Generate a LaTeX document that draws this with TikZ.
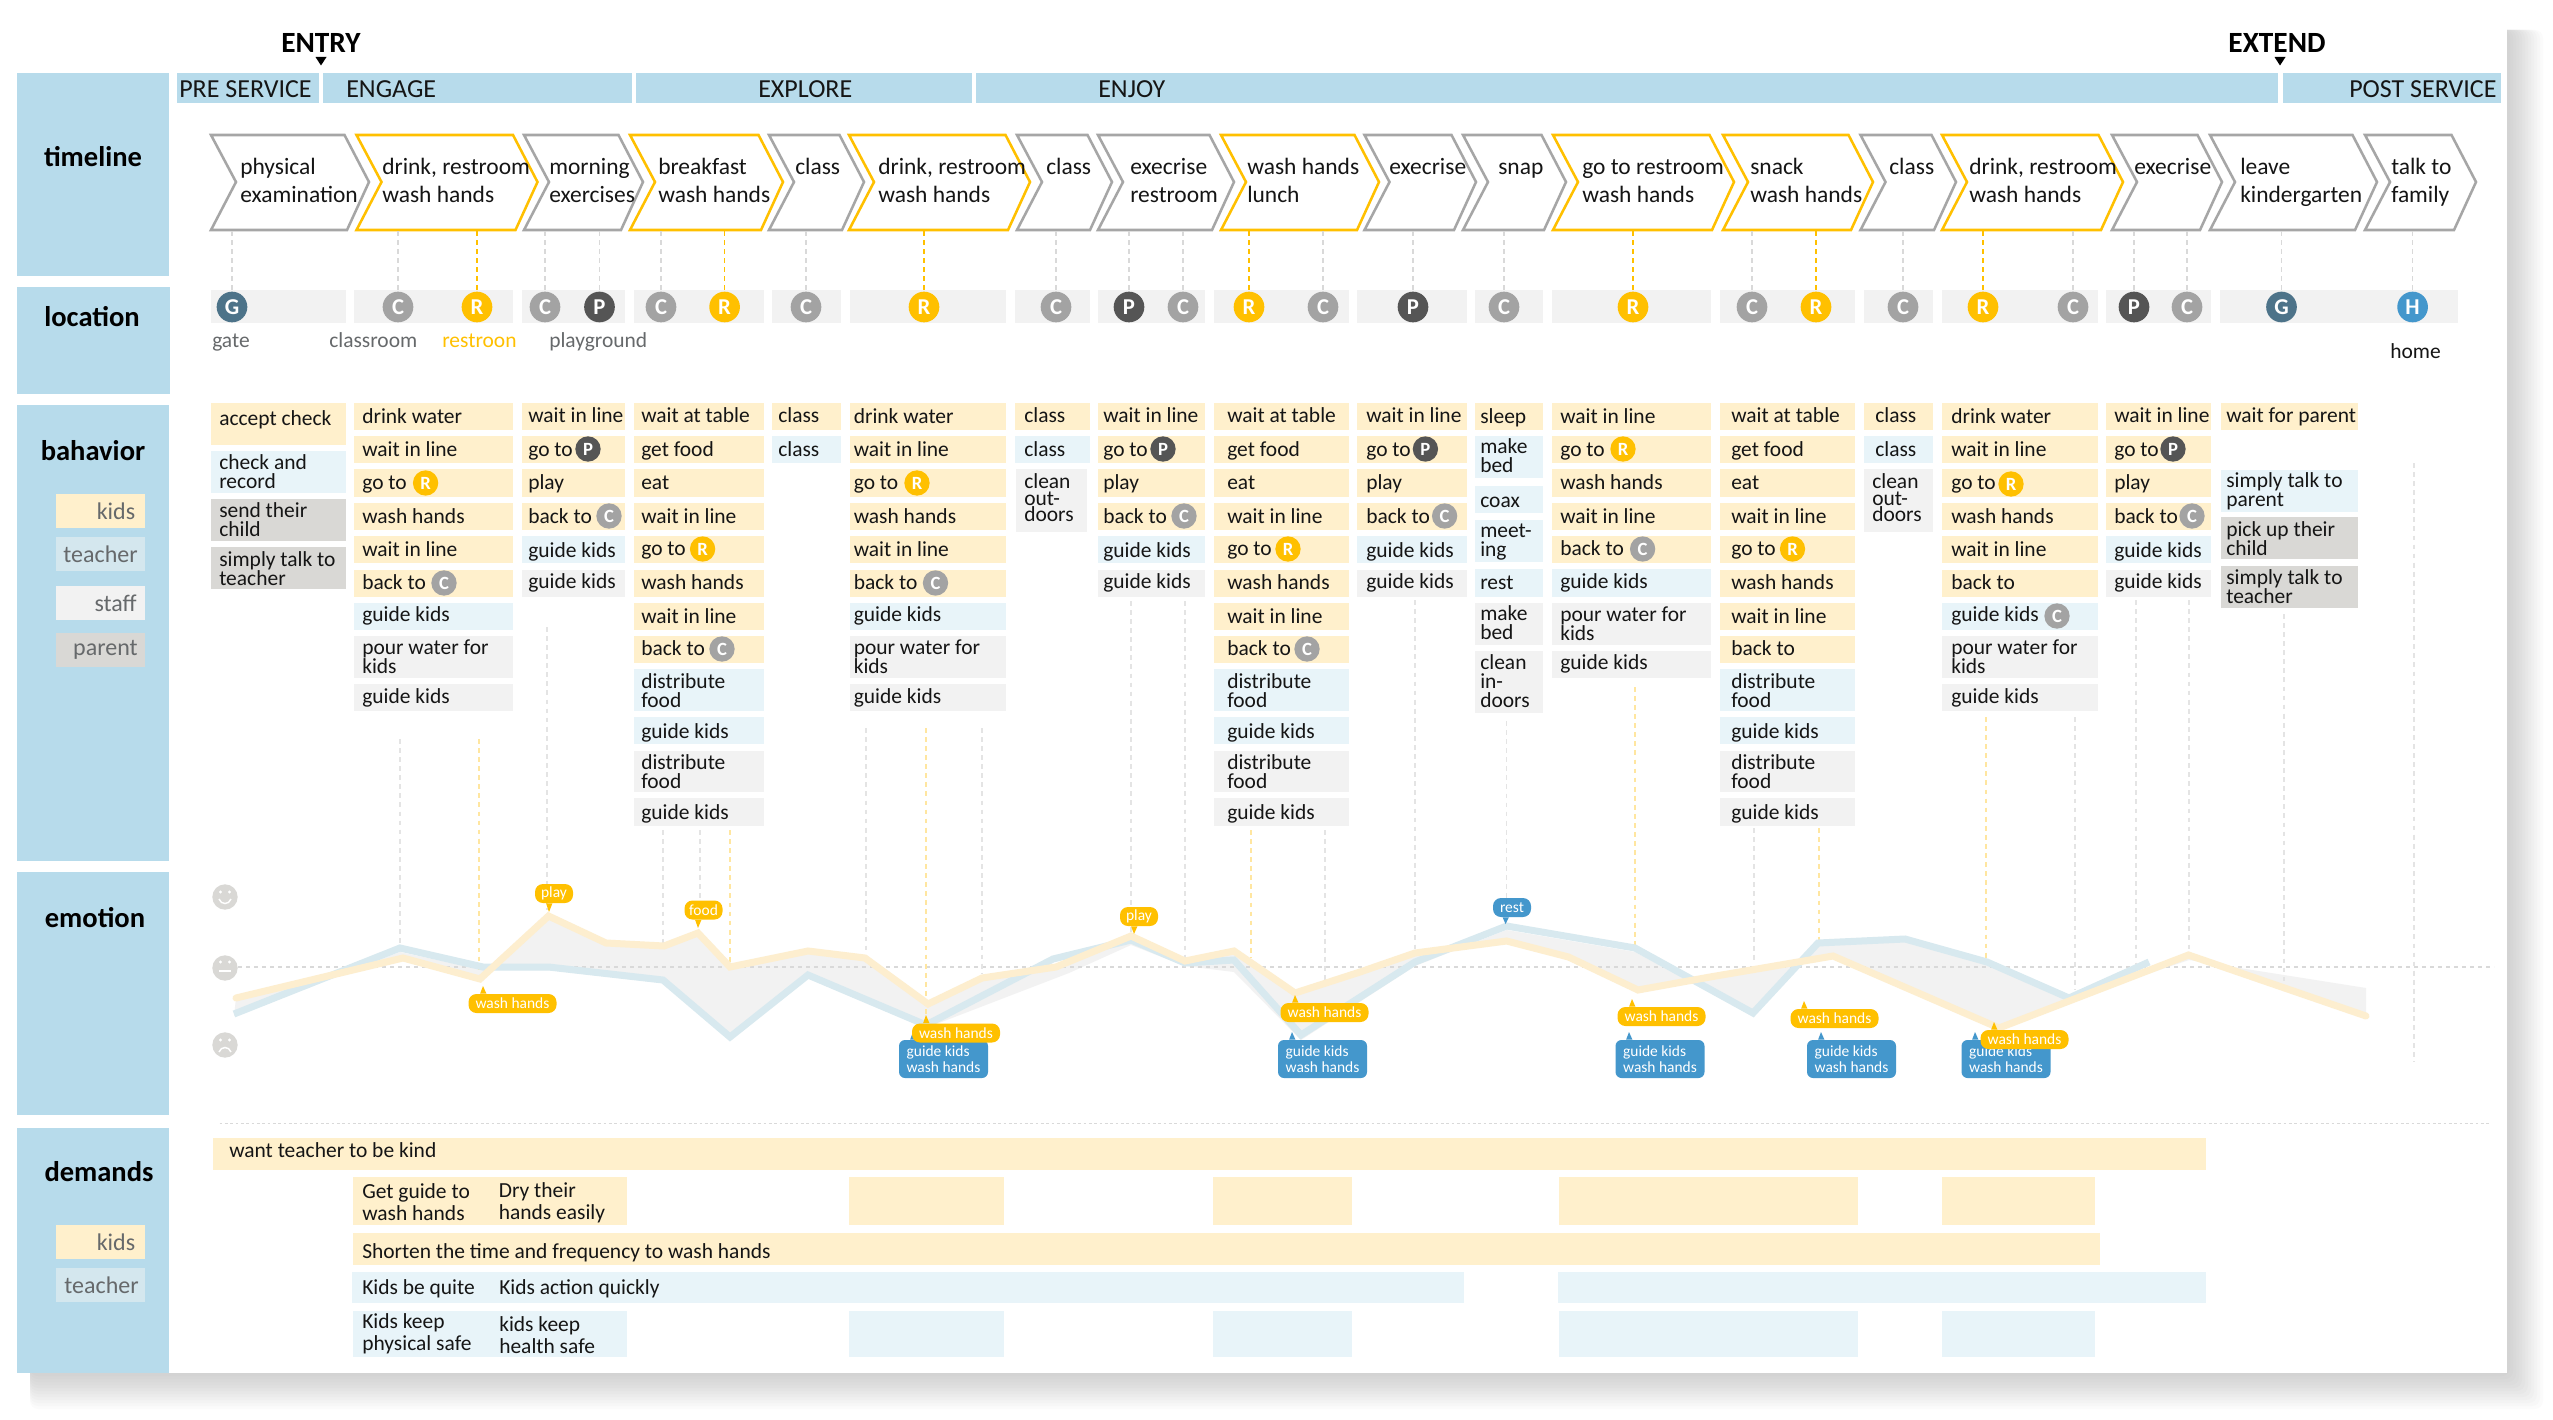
\documentclass[tikz,border=0pt]{standalone}
\usepackage{tikz}
\usepackage{fontspec}
\setmainfont{Carlito}
\usepackage{xcolor}

\definecolor{bandcol}{HTML}{B7DBEB}
\definecolor{kidcol}{HTML}{FFF0CC}
\definecolor{teachcol}{HTML}{E8F4F9}
\definecolor{staffcol}{HTML}{F2F2F2}
\definecolor{parentcol}{HTML}{D9D8D5}
\definecolor{legteach}{HTML}{D4E7EE}
\definecolor{goldcol}{HTML}{FFC000}
\definecolor{pinblue}{HTML}{4497CC}
\definecolor{chevgray}{HTML}{A6A6A6}
\definecolor{linkgray}{HTML}{D9D9D9}
\definecolor{lowgray}{HTML}{E4E4E4}
\definecolor{linkgold}{HTML}{FFE6A0}
\definecolor{teachline}{HTML}{D8E9EF}
\definecolor{kidline}{HTML}{FDEECF}
\definecolor{ink}{HTML}{151515}
\definecolor{soft}{HTML}{66696B}
\definecolor{gatecol}{HTML}{4D7389}
\definecolor{classcol}{HTML}{A3A3A3}
\definecolor{playcol}{HTML}{555555}

\newcommand{\bhvf}{\fontsize{16.1pt}{14.25pt}\selectfont\lineskiplimit=-20pt\relax}
\newcommand{\tightf}{\fontsize{16.1pt}{12.5pt}\selectfont\lineskiplimit=-20pt\relax}
\newcommand{\chevf}{\fontsize{17.6pt}{21pt}\selectfont\lineskiplimit=-20pt\relax}
\newcommand{\demf}{\fontsize{16.1pt}{16.5pt}\selectfont\lineskiplimit=-20pt\relax}

\tikzset{
	kidbox/.style={fill=kidcol},
	teachbox/.style={fill=teachcol},
	staffbox/.style={fill=staffcol},
	parentbox/.style={fill=parentcol},
	lbl/.style={inner sep=0pt,anchor=west,align=left,text=ink,font=\bhvf,
		execute at begin node=\rule{0pt}{12.4pt},execute at end node=\rule[-2pt]{0pt}{2pt}},
	chevlbl/.style={lbl,font=\chevf},
	demlbl/.style={lbl,font=\demf},
	softlbl/.style={lbl,text=soft},
	stagelbl/.style={lbl,font=\fontsize{19.5pt}{21pt}\selectfont},
	bandtitle/.style={inner sep=0pt,text=black,font=\fontsize{21.4pt}{24pt}\selectfont\bfseries},
	marktitle/.style={bandtitle,font=\fontsize{22pt}{24pt}\selectfont\bfseries},
	legendlbl/.style={inner sep=0pt,anchor=east,text=soft,font=\fontsize{18pt}{21pt}\selectfont},
	graychev/.style={draw=chevgray,fill=white,line width=1.9pt,miter limit=10},
	goldchev/.style={draw=goldcol,fill=white,line width=1.9pt,miter limit=10},
	graylink/.style={draw=linkgray,line width=1.1pt,dash pattern=on 3.6pt off 3.2pt},
	lowlink/.style={draw=lowgray,line width=1.1pt,dash pattern=on 3.6pt off 3.2pt},
	goldlink/.style={draw=goldcol,line width=1.1pt,dash pattern=on 3.6pt off 3.2pt},
	fadelink/.style={draw=linkgold,line width=1.1pt,dash pattern=on 3.6pt off 3.2pt},
	bigicon/.style={circle,inner sep=0pt,minimum size=23pt,text=white,font=\fontsize{17pt}{17pt}\selectfont\bfseries},
	smicon/.style={circle,inner sep=0pt,minimum size=19pt,text=white,font=\fontsize{14pt}{14pt}\selectfont\bfseries},
	iconG/.style={fill=gatecol},
	iconC/.style={fill=classcol},
	iconR/.style={fill=goldcol},
	iconP/.style={fill=playcol},
	iconH/.style={fill=pinblue},
	face/.style={circle,fill=parentcol,inner sep=0pt,minimum size=19pt},
	facemark/.style={draw=white,line width=1.1pt},
	pill/.style={inner sep=0pt,text=white,align=left,rounded corners=6pt,minimum height=14.25pt,
		font=\fontsize{11.6pt}{12pt}\selectfont},
	pillgold/.style={pill,fill=goldcol,minimum width=#1},
	pillblue/.style={pill,fill=pinblue,rounded corners=4.5pt,minimum width=66.75pt,minimum height=28.5pt},
}

\def\rowsdrink{kidbox/403/430/417/drink water,kidbox/436/463/450/wait in line,kidbox/469/497/483/go to,kidbox/503/530/517/wash hands,kidbox/536/563/550/wait in line,kidbox/570/597/583/back to,teachbox/603/630/615/guide kids,staffbox/636/678/657.5/pour water for\\kids,staffbox/684/711/697/guide kids}
\def\rowsplay{kidbox/403/430/416/wait in line,kidbox/436/463/450/go to,kidbox/469/497/483/play,kidbox/503/530/517/back to,teachbox/536/563/551/guide kids,staffbox/570/597/582/guide kids}
\def\rowsmeal{kidbox/403/430/416/wait at table,kidbox/436/463/450/get food,kidbox/469/497/483/eat,kidbox/503/530/517/wait in line,kidbox/536/563/549/go to,kidbox/570/597/583/wash hands,kidbox/603/630/617/wait in line,kidbox/636/663/649/back to,teachbox/669/711/691.5/distribute\\food,teachbox/717/744/732/guide kids,staffbox/751/792/772.5/distribute\\food,staffbox/798/826/813/guide kids}
\def\rowsclass{kidbox/403/430/416/class,teachbox/436/463/450/class}
\def\rowsgate{kidbox/403/445/419/accept check,teachbox/451/493/472.5/check and\\record,parentbox/499/541/520.5/send their\\child,parentbox/547/589/569.5/simply talk to\\teacher}
\def\rowsnap{kidbox/403/430/417/sleep,teachbox/436/478/456.5/{\tightf make\\bed},teachbox/486/513/501/coax,teachbox/520/562/542.5/meet-\\ing,teachbox/569/597/583/rest,staffbox/603/645/623.5/{\tightf make\\bed},staffbox/651/713/682.5/{\tightf clean\\in-\\doors}}
\def\rowswash{kidbox/403/430/417/wait in line,kidbox/436/463/450/go to,kidbox/469/497/483/wash hands,kidbox/503/530/517/wait in line,kidbox/536/563/549/back to,teachbox/569/597/582/guide kids,staffbox/603/645/625/pour water for\\kids,staffbox/651/678/663/guide kids}
\def\rowsleave{kidbox/403/430/416/wait for parent,teachbox/470/512/491.5/simply talk to\\parent,parentbox/517/559/540/pick up their\\child,parentbox/566/608/588/simply talk to\\teacher}

\newcommand{\bhvcol}[5]{
	\foreach \st/\ya/\yb/\yt/\txt [count=\n] in #5 {
		\fill[\st] (#2,\ya) rectangle (#3,\yb);
		\node[lbl] (#1r\n) at (#4,\yt) {\txt};
	}
}
\newcommand{\pin}[8]{
	\node[#2] (#1) at (#3,#4) {#8};
	\coordinate (#1tip) at (#5,#6);
	\fill[#7] ([xshift=-2.2pt]#1.north -| #1tip) -- (#1tip) -- ([xshift=2.6pt]#1.north -| #1tip) -- cycle;
}
\newcommand{\pinup}[8]{
	\node[#2] (#1) at (#3,#4) {#8};
	\coordinate (#1tip) at (#5,#6);
	\fill[#7] ([xshift=-2.2pt]#1.south -| #1tip) -- (#1tip) -- ([xshift=2.6pt]#1.south -| #1tip) -- cycle;
}

\begin{document}
\begin{tikzpicture}[x=0.75pt,y=-0.75pt]
	\useasboundingbox (0,0) rectangle (2553,1420);
	% sheet and its shadow
	\foreach \i in {12,11,...,1} {
		\fill[black,opacity=.015,rounded corners=6pt] (30,30) rectangle ({2507+3*\i},{1373+3*\i});
	}
	\fill[white] (17,18) rectangle (2507,1373);

	% left bands
	\fill[bandcol] (17,73) rectangle (169,276);
	\fill[bandcol] (17,287) rectangle (170,394);
	\fill[bandcol] (17,405) rectangle (169,861);
	\fill[bandcol] (17,872) rectangle (169,1115);
	\fill[bandcol] (17,1128) rectangle (169,1373);
	\node[bandtitle] (tTimeline) at (93,157) {timeline};
	\node[bandtitle] (tLocation) at (92,317) {location};
	\node[bandtitle] (tBehavior) at (93,451) {bahavior};
	\node[bandtitle] (tEmotion) at (95,918) {emotion};
	\node[bandtitle] (tDemands) at (99,1172) {demands};

	% legends
	\foreach \nm/\st/\ya/\yb/\xt in {kids/kidcol/494/528/135.5,teacher/legteach/537/571/138,staff/staffcol/586/620/137,parent/parentcol/633/667/138} {
		\fill[\st] (56,\ya) rectangle (145,\yb);
		\node[legendlbl] (leg\nm) at (\xt,{(\ya+\yb)/2}) {\nm};
	}
	\foreach \nm/\st/\ya/\yb/\xt in {kids/kidcol/1225/1259/135.5,teacher/legteach/1268/1302/139} {
		\fill[\st] (56,\ya) rectangle (145,\yb);
		\node[legendlbl] (dem\nm) at (\xt,{(\ya+\yb)/2}) {\nm};
	}

	% stages
	\foreach \xa/\xb in {177/319,323/632,636/972,976/2278,2283/2501} {
		\fill[bandcol] (\xa,73) rectangle (\xb,103.5);
	}
	\node[stagelbl] (sPre) at (179,90) {PRE SERVICE};
	\node[stagelbl] (sEngage) at (346,90) {ENGAGE};
	\node[stagelbl] (sExplore) at (758,90) {EXPLORE};
	\node[stagelbl] (sEnjoy) at (1098,90) {ENJOY};
	\node[stagelbl] (sPost) at (2349,90) {POST SERVICE};
	\node[marktitle] (entry) at (321,43) {ENTRY};
	\node[marktitle] (extend) at (2277,43) {EXTEND};
	\fill[black] (315.5,57) -- (326.5,57) -- (321,65.5) -- cycle;
	\fill[black] (2274.5,57) -- (2285.5,57) -- (2280,65.5) -- cycle;

	% timeline
	\foreach \st/\xl/\xt/\tx/\yt/\txt [count=\n] in {
		graychev/211/369/240/182/{physical\\examination},
		goldchev/356.5/537.5/382/182/{drink, restroom\\wash hands},
		graychev/524/643/549/182/{morning\\exercises},
		goldchev/630/783/658/182/{breakfast\\wash hands},
		graychev/769/864/795/168/{class},
		goldchev/849/1030/878/182/{drink, restroom\\wash hands},
		graychev/1017/1112/1046/168/{class},
		graychev/1098/1234/1130/182/{execrise\\restroom},
		goldchev/1221/1379/1247/182/{wash hands\\lunch},
		graychev/1364.5/1476/1389/168/{execrise},
		graychev/1463/1566/1498/168/{snap},
		goldchev/1553/1734/1582/182/{go to restroom\\wash hands},
		goldchev/1723/1873/1750/182/{snack\\wash hands},
		graychev/1860.5/1956/1889/168/{class},
		goldchev/1942/2123/1969/182/{drink, restroom\\wash hands},
		graychev/2112/2222/2134/168/{execrise},
		graychev/2210/2377/2240/182/{leave\\kindergarten},
		graychev/2365/2476/2391/182/{talk to\\family}} {
		\filldraw[\st] (\xl,135) -- ({\xt-24.5},135) -- (\xt,182) -- ({\xt-22},230) -- (\xl,230) -- ({\xl+25},182) -- cycle;
		\node[chevlbl] (tl\n) at (\tx,\yt) {\txt};
	}

	% location
	\foreach \xa/\xb in {211/346,354/513,522/625,633.5/763.5,772/841,850/1006,1014.5/1090,1098/1205,1214/1349,1357/1466.5,1475/1543,1552/1711,1720/1855,1864/1933,1942/2098,2106/2211,2220/2458} {
		\fill[staffbox] (\xa,290) rectangle (\xb,323);
	}
	\foreach \n/\x/\kn/\lk in {1/232/G/graylink,2/398/C/graylink,3/477/R/goldlink,4/545/C/graylink,5/599.5/P/graylink,6/661/C/graylink,7/724.6/R/goldlink,8/806/C/graylink,9/924/R/goldlink,10/1056/C/graylink,11/1129/P/graylink,12/1183/C/graylink,13/1249/R/goldlink,14/1323/C/graylink,15/1413/P/graylink,16/1504/C/graylink,17/1633/R/goldlink,18/1752/C/graylink,19/1816/R/goldlink,20/1903/C/graylink,21/1983/R/goldlink,22/2073/C/graylink,23/2134/P/graylink,24/2187/C/graylink,25/2281.5/G/graylink,26/2412.6/H/graylink} {
		\coordinate (t\n) at (\x,231);
		\node[bigicon,icon\kn] (loc\n) at (\x,307) {\kn};
		\draw[\lk] (t\n) -- (loc\n);
	}
	\node[softlbl] (pGate) at (212,341) {gate};
	\node[softlbl] (pClass) at (329,341) {classroom};
	\node[softlbl,text=goldcol] (pRest) at (442,341) {restroon};
	\node[softlbl] (pPlay) at (549,341) {playground};
	\node[lbl] (pHome) at (2390,351.5) {home};

	% behavior
	\bhvcol{c1}{211}{346}{219}{\rowsgate}
	\bhvcol{c2}{354}{513}{362}{\rowsdrink}
	\bhvcol{c3}{522}{625}{528}{\rowsplay}
	\bhvcol{c4}{633.5}{763.5}{641}{\rowsmeal}
	\bhvcol{c5}{772}{841}{778}{\rowsclass}
	\bhvcol{c6}{850}{1006}{853.5}{\rowsdrink}
	\bhvcol{c7}{1014.5}{1090}{1024}{\rowsclass}
	\fill[staffbox] (1016,469) rectangle (1087,532);
	\node[lbl,font=\tightf] (c7out) at (1024,499) {clean\\out-\\doors};
	\bhvcol{c8}{1098}{1205}{1103}{\rowsplay}
	\bhvcol{c9}{1214}{1349}{1227}{\rowsmeal}
	\bhvcol{c10}{1357}{1466.5}{1366}{\rowsplay}
	\bhvcol{c11}{1475}{1543}{1480}{\rowsnap}
	\bhvcol{c12}{1552}{1711}{1560}{\rowswash}
	\bhvcol{c13}{1720}{1855}{1731}{\rowsmeal}
	\bhvcol{c14}{1864}{1933}{1875}{\rowsclass}
	\fill[staffbox] (1864,469) rectangle (1933,532);
	\node[lbl,font=\tightf] (c14out) at (1872,499) {clean\\out-\\doors};
	\bhvcol{c15}{1942}{2098}{1951}{\rowsdrink}
	\bhvcol{c16}{2106}{2211}{2114}{\rowsplay}
	\bhvcol{c17}{2221}{2358}{2226}{\rowsleave}

	% small icons in the behavior boxes
	\foreach \n/\x/\y/\kn in {1/425.6/483/R,2/444/583/C,3/588/449/P,4/609/516/C,5/702.6/549/R,6/722/649/C,7/917/483/R,8/935.5/583/C,9/1163/449/P,10/1184/516/C,11/1288/549/R,12/1307/649/C,13/1425.4/449/P,14/1444.6/516/C,15/1623/449/R,16/1642.6/549/C,17/1792.5/549/R,18/2011/484/R,19/2057/616/C,20/2173/449/P,21/2192/516/C} {
		\node[smicon,icon\kn] (bi\n) at (\x,\y) {\kn};
	}

	% emotion
	\fill[staffbox] plot coordinates {(234,1016) (400,952) (483,970) (548.5,970) (663,983) (730,1040) (808,978) (926,1028) (1069,973) (1131,945) (1185,966) (1234,972) (1301,1040) (1415,966) (1506.6,930) (1635,952) (1753,1016) (1818,946) (1905,942) (1987,965) (2069,1000) (2189,960) (2366,988) (2366,1016) (2188.5,955) (1999,1028) (1833,956) (1710,977) (1638,990) (1568.5,957) (1506.6,941) (1415,953) (1360,972) (1295,993) (1234,951) (1185,961) (1131,936) (1056,967) (982,978) (928,1004) (865,958) (808,951) (730,967) (698,933) (664,946) (606,943) (548.5,916) (480,979) (403,958) (236,998)};
	\coordinate (zeroA) at (238,967);
	\coordinate (zeroB) at (2494,967);
	\draw[draw=linkgray,line width=1.3pt,dash pattern=on 3pt off 3pt] (zeroA) -- (zeroB);
	\foreach \n/\x/\ya/\yb/\lk in {1/400/739/945/lowlink,2/479/739/983/fadelink,3/547/627/910/lowlink,4/663/830/943/lowlink,5/700/830/900/lowlink,6/730/830/970/fadelink,7/866/728/953/lowlink,8/926/728/1017/fadelink,9/982/728/973/lowlink,10/1131/601/940/lowlink,11/1185/601/960/lowlink,12/1251/830/957/fadelink,13/1325/830/983/lowlink,14/1415/600/950/lowlink,15/1506.6/721/927/lowlink,16/1635/687/947/fadelink,17/1754/828/963/lowlink,18/1819/828/940/fadelink,19/1986/717/958/fadelink,20/2075/717/990/lowlink,21/2136/600/967/lowlink,22/2189/600/953/lowlink,23/2284/614/992/lowlink,24/2414/463/1062/lowlink} {
		\coordinate (u\n) at (\x,\ya);
		\coordinate (v\n) at (\x,\yb);
		\draw[\lk] (u\n) -- (v\n);
	}
	\draw[draw=teachline,line width=5.25pt,miter limit=10] plot coordinates {(234,1014) (400,948) (483,967) (548.5,967) (663,980) (730,1037) (808,975) (926,1025) (1053,959) (1131,940) (1185,963) (1234,960) (1301,1035) (1415,962) (1506.6,926) (1635,948) (1753,1013) (1818,943) (1905,939) (1987,962) (2069,998) (2149,962)};
	\draw[draw=kidline,line width=5.25pt,line cap=round,miter limit=10] plot coordinates {(236,998) (403,958) (480,979) (548.5,916) (606,943) (664,946) (698,933) (730,967) (808,951) (865,958) (928,1004) (982,978) (1056,967) (1131,936) (1185,961) (1234,951) (1295,993) (1360,972) (1415,953) (1506.6,941) (1568.5,957) (1638,990) (1710,977) (1833,956) (1999,1028) (2188.5,955) (2366,1016)};

	% faces
	\node[face] (faceUp) at (225,897) {};
	\node[face] (faceMid) at (225,968) {};
	\node[face] (faceDown) at (225,1045) {};
	\foreach \y in {892,962,1040} {
		\fill[white] (220.5,\y) circle (1.3pt);
		\fill[white] (229.5,\y) circle (1.3pt);
	}
	\draw[facemark] (219,899) .. controls (221,905) and (229,905) .. (231,899);
	\draw[facemark,line width=1.4pt] (219,971) -- (231,971);
	\draw[facemark] (219,1052) .. controls (221,1046) and (229,1046) .. (231,1052);

	% pins
	\pin{pBlueA}{pillblue}{943.5}{1059}{913}{1032}{pinblue}{guide kids\\wash hands}
	\pin{pBlueB}{pillblue}{1322.5}{1059}{1292}{1032}{pinblue}{guide kids\\wash hands}
	\pin{pBlueC}{pillblue}{1660}{1059}{1629}{1032}{pinblue}{guide kids\\wash hands}
	\pin{pBlueD}{pillblue}{1851.5}{1059}{1821}{1032}{pinblue}{guide kids\\wash hands}
	\pin{pBlueE}{pillblue}{2006}{1059}{1975}{1032}{pinblue}{guide kids\\wash hands}
	\pinup{pPlayA}{pillgold=28.5pt}{554}{893.5}{549}{912}{goldcol}{play}
	\pinup{pFood}{pillgold=28.5pt}{703.5}{910}{698}{928}{goldcol}{food}
	\pinup{pPlayB}{pillgold=28.5pt}{1139}{916.5}{1134}{934}{goldcol}{play}
	\pinup{pRest}{pill,fill=pinblue,minimum width=28.5pt}{1512}{907.5}{1505.5}{924}{pinblue}{rest}
	\pin{pWashA}{pillgold=66pt}{512.5}{1003.5}{483}{986}{goldcol}{wash hands}
	\pin{pWashB}{pillgold=66pt}{956}{1033}{926}{1015}{goldcol}{wash hands}
	\pin{pWashC}{pillgold=66pt}{1324.5}{1012.5}{1295}{995}{goldcol}{wash hands}
	\pin{pWashD}{pillgold=66pt}{1661.5}{1016.5}{1632}{999}{goldcol}{wash hands}
	\pin{pWashE}{pillgold=66pt}{1834.5}{1018.5}{1804}{1001}{goldcol}{wash hands}
	\pin{pWashF}{pillgold=66pt}{2024.5}{1039.5}{1994}{1022}{goldcol}{wash hands}

	% demands
	\coordinate (rowA) at (219.5,1123.5);
	\coordinate (rowB) at (2490,1123.5);
	\draw[draw=linkgray,line width=.9pt,dash pattern=on 2pt off 2pt] (rowA) -- (rowB);
	\fill[kidbox] (213,1138) rectangle (2206,1169.5);
	\fill[kidbox] (352.5,1233) rectangle (2099.5,1265);
	\fill[teachbox] (352,1272) rectangle (1464,1303);
	\fill[teachbox] (1558,1272) rectangle (2206,1303);
	\foreach \xa/\xb in {352.5/627,849/1004,1212.6/1352,1559/1858,1941.6/2095} {
		\fill[kidbox] (\xa,1177) rectangle (\xb,1225);
		\fill[teachbox] (\xa,1311) rectangle (\xb,1357);
	}
	\node[demlbl] (dA) at (229,1151) {want teacher to be kind};
	\node[demlbl] (dB) at (362,1203) {Get guide to\\wash hands};
	\node[demlbl] (dC) at (498.6,1203) {Dry their\\hands easily};
	\node[demlbl] (dD) at (362,1252) {Shorten the time and frequency to wash hands};
	\node[demlbl] (dE) at (362,1288) {Kids be quite};
	\node[demlbl] (dF) at (499,1288) {Kids action quickly};
	\node[demlbl] (dG) at (362,1334) {Kids keep\\physical safe};
	\node[demlbl] (dH) at (499,1336.5) {kids keep\\health safe};
\end{tikzpicture}
\end{document}
